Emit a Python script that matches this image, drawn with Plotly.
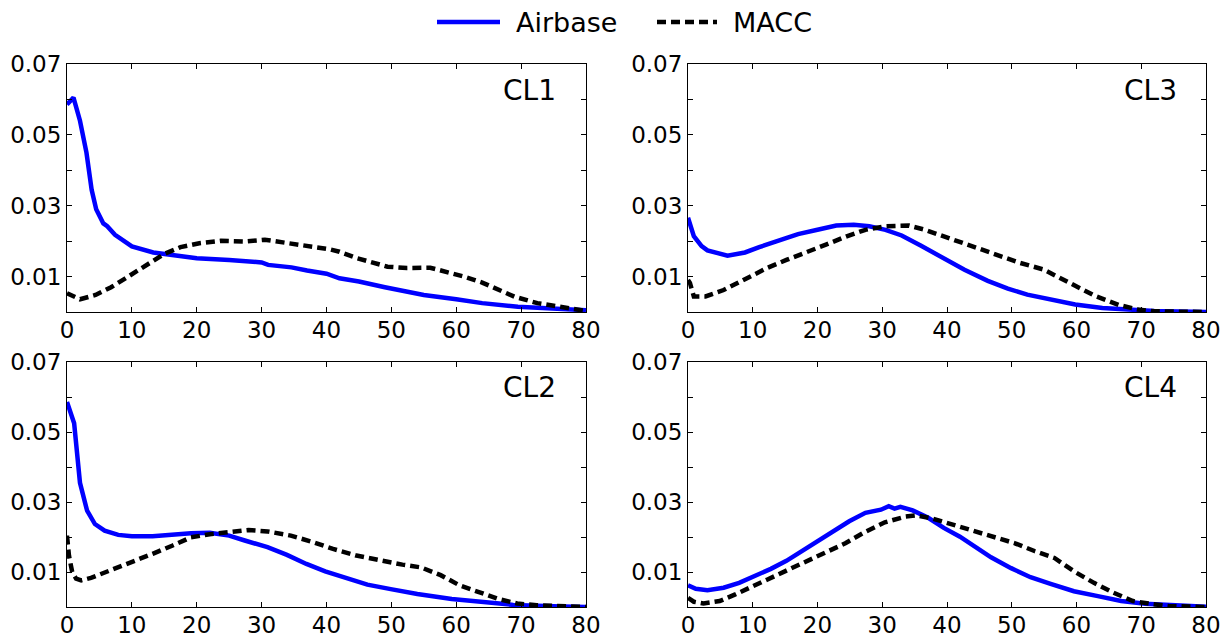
import plotly.graph_objects as go

# Airbase vs MACC distributions for four clusters (x: value bins, y: density)
cl1_air_x = [0, 1, 2, 3, 3.8, 4.5, 5.6, 6.2, 7.4, 10, 13.3, 16, 20, 25, 30, 31, 34.6, 37, 40, 42, 45, 49, 55, 60, 64, 69.5, 74.8, 80]
cl1_air_y = [0.0586, 0.0605, 0.054, 0.045, 0.0345, 0.029, 0.025, 0.0242, 0.0218, 0.0185, 0.0168, 0.0162, 0.0152, 0.0147, 0.014, 0.0133, 0.0126, 0.0117, 0.0108, 0.0095, 0.0086, 0.007, 0.0048, 0.0036, 0.0025, 0.0015, 0.001, 0.0005]
cl1_macc_x = [0, 2, 4.4, 6.8, 9, 12, 15, 17.5, 20.4, 23.7, 27.5, 30.5, 33.4, 37.5, 40.5, 42, 44.7, 49.4, 52.4, 56, 58.6, 61.2, 64, 69, 72.5, 75.5, 78.4, 80]
cl1_macc_y = [0.0053, 0.0036, 0.0048, 0.007, 0.0095, 0.0128, 0.0164, 0.0183, 0.0194, 0.0201, 0.0199, 0.0204, 0.0196, 0.0187, 0.0177, 0.017, 0.0152, 0.0128, 0.0124, 0.0125, 0.0114, 0.01, 0.0083, 0.0043, 0.0025, 0.0015, 0.0006, 0.0003]

cl2_air_x = [0, 1.1, 2, 3.1, 4.3, 5.8, 7.9, 10, 13.2, 16.2, 19.1, 22, 25, 27.4, 30.9, 33.9, 36.9, 39.8, 42.8, 46.3, 49.9, 54, 59.3, 64.1, 68.8, 75, 80]
cl2_air_y = [0.0586, 0.0525, 0.0355, 0.0275, 0.0237, 0.0218, 0.0206, 0.0202, 0.0202, 0.0207, 0.0211, 0.0212, 0.0204, 0.019, 0.0171, 0.0149, 0.0123, 0.0102, 0.0084, 0.0064, 0.0051, 0.0037, 0.0023, 0.0013, 0.0006, 0.0002, 0.0]
cl2_macc_x = [0, 0.3, 0.8, 1.4, 2.2, 3.7, 6.7, 9.6, 13.2, 16.2, 19.1, 22, 25, 28, 30.9, 34.5, 38, 41, 44.6, 48.1, 51.7, 54.6, 57.6, 60.5, 63.5, 66.5, 69.4, 72.4, 80]
cl2_macc_y = [0.0204, 0.0147, 0.01, 0.0081, 0.0076, 0.0083, 0.0105, 0.0125, 0.0152, 0.0175, 0.0199, 0.0208, 0.0215, 0.022, 0.0216, 0.0204, 0.0185, 0.0166, 0.0147, 0.0133, 0.0121, 0.0113, 0.0091, 0.0062, 0.0043, 0.0023, 0.001, 0.0005, 0.0]

cl3_air_x = [0, 0.9, 2.1, 3, 6.1, 8.8, 11, 14, 17, 20, 22.9, 25.6, 28, 30.5, 33, 36, 39.6, 42.7, 46.3, 49.4, 52.4, 56, 59.8, 64, 68.3, 72, 80]
cl3_air_y = [0.0266, 0.0214, 0.0186, 0.0174, 0.0159, 0.0168, 0.0183, 0.0202, 0.022, 0.0232, 0.0244, 0.0246, 0.0242, 0.0232, 0.0216, 0.0187, 0.0151, 0.0119, 0.0088, 0.0066, 0.0049, 0.0034, 0.0021, 0.0011, 0.0006, 0.0003, 0.0]
cl3_macc_x = [0, 0.3, 0.9, 2.7, 5.5, 8.5, 12.2, 15.2, 18.3, 21.3, 24.4, 27.4, 30.5, 34.1, 36.6, 40.2, 43.9, 47.6, 51.2, 54.9, 58.5, 62.8, 66.5, 69.5, 72, 80]
cl3_macc_y = [0.009, 0.0082, 0.0044, 0.0044, 0.0062, 0.009, 0.0124, 0.0147, 0.0168, 0.019, 0.0213, 0.0232, 0.0242, 0.0244, 0.0232, 0.0209, 0.0185, 0.0162, 0.0139, 0.012, 0.0085, 0.0046, 0.002, 0.0007, 0.0002, 0.0]

cl4_air_x = [0, 1.2, 3, 5.5, 7.9, 10.3, 12.8, 15.2, 17.6, 20.1, 22.5, 24.9, 27.4, 29.8, 31, 31.9, 32.8, 34.7, 37.1, 39.5, 42, 44.4, 46.8, 49.9, 52.9, 56, 59.6, 63.3, 66.9, 70.6, 75, 80]
cl4_air_y = [0.0062, 0.0052, 0.0048, 0.0055, 0.0069, 0.0088, 0.0109, 0.0132, 0.016, 0.0189, 0.022, 0.0245, 0.0269, 0.0278, 0.0288, 0.0281, 0.0286, 0.0276, 0.0255, 0.0226, 0.0201, 0.0173, 0.0142, 0.0111, 0.0085, 0.0066, 0.0045, 0.0031, 0.0017, 0.0009, 0.0004, 0.0001]
cl4_macc_x = [0, 0.9, 2.4, 4.9, 7.3, 9.7, 12.2, 15.2, 18.2, 21.3, 24.3, 27.4, 30.4, 33.5, 35.3, 37.7, 40.8, 43.8, 46.8, 50.5, 53.5, 56.6, 59.6, 62.7, 65.7, 68.7, 71.8, 74.2, 80]
cl4_macc_y = [0.0026, 0.0015, 0.001, 0.0017, 0.0036, 0.0055, 0.0078, 0.0104, 0.013, 0.0154, 0.0182, 0.0215, 0.0242, 0.0258, 0.0262, 0.0253, 0.0236, 0.0217, 0.0201, 0.0182, 0.016, 0.014, 0.0102, 0.0069, 0.0041, 0.0017, 0.0008, 0.0003, 0.0]

panel_names = ["CL1", "CL2", "CL3", "CL4"]
series_names = ["Airbase", "MACC"]
x_ticks = [0, 10, 20, 30, 40, 50, 60, 70, 80]
y_ticks = [0.01, 0.02, 0.03, 0.04, 0.05, 0.06, 0.07]
y_tick_text = ["0.01", "", "0.03", "", "0.05", "", "0.07"]

series = {
    "CL1": (cl1_air_x, cl1_air_y, cl1_macc_x, cl1_macc_y),
    "CL2": (cl2_air_x, cl2_air_y, cl2_macc_x, cl2_macc_y),
    "CL3": (cl3_air_x, cl3_air_y, cl3_macc_x, cl3_macc_y),
    "CL4": (cl4_air_x, cl4_air_y, cl4_macc_x, cl4_macc_y),
}

W, H = 1227, 641
left_dom = [67 / W, 586 / W]
right_dom = [688 / W, 1206 / W]
top_dom = [1 - 312 / H, 1 - 64 / H]
bot_dom = [1 - 607 / H, 1 - 362 / H]

# panel -> (axis suffix, x domain, y domain)
layout_map = {
    "CL1": ("", left_dom, top_dom),
    "CL3": ("2", right_dom, top_dom),
    "CL2": ("3", left_dom, bot_dom),
    "CL4": ("4", right_dom, bot_dom),
}

FONT = "DejaVu Sans"
AIR_LINE = dict(color="#0000ff", width=4.5)
MACC_LINE = dict(color="black", width=4.5, dash="9px,5px")

fig = go.Figure()
layout = dict(
    width=W, height=H,
    margin=dict(l=0, r=0, t=0, b=0),
    paper_bgcolor="white", plot_bgcolor="white",
    font=dict(family=FONT, size=23, color="black"),
    showlegend=False,
    annotations=[],
    shapes=[],
)

for name in panel_names:
    suf, xd, yd = layout_map[name]
    ax_x, ax_y = "x" + suf, "y" + suf
    ax, ay, mx, my = series[name]
    fig.add_trace(go.Scatter(x=ax, y=ay, mode="lines", name=series_names[0],
                             line=AIR_LINE, xaxis=ax_x, yaxis=ax_y))
    fig.add_trace(go.Scatter(x=mx, y=my, mode="lines", name=series_names[1],
                             line=MACC_LINE, xaxis=ax_x, yaxis=ax_y))
    common = dict(showline=True, linecolor="black", linewidth=1, mirror="allticks",
                  ticks="inside", ticklen=5, tickcolor="black", tickwidth=1,
                  showgrid=False, zeroline=False, automargin=False,
                  tickfont=dict(size=23, family=FONT))
    layout["xaxis" + suf] = dict(domain=xd, range=[0, 80], tickvals=x_ticks,
                                 anchor=ax_y, ticklabelstandoff=-3, **common)
    layout["yaxis" + suf] = dict(domain=yd, range=[0, 0.07], tickvals=y_ticks,
                                 ticktext=y_tick_text, anchor=ax_x, **common)
    layout["annotations"].append(dict(
        text=name, xref=ax_x + " domain", yref=ax_y + " domain",
        x=0.947, y=0.895, xanchor="right", yanchor="middle", showarrow=False,
        font=dict(size=28, family=FONT, color="black")))

# Legend row across the top: line sample followed by its label
legend_y = 1 - 22 / H
legend_items = [(series_names[0], AIR_LINE, 437, 500, 514),
                (series_names[1], MACC_LINE, 657, 717, 731)]
for label, style, x0, x1, xt in legend_items:
    layout["shapes"].append(dict(type="line", xref="paper", yref="paper",
                                 x0=x0 / W, x1=x1 / W, y0=legend_y, y1=legend_y,
                                 line=style))
    layout["annotations"].append(dict(
        text=label, xref="paper", yref="paper", x=xt / W, y=legend_y,
        xanchor="left", yanchor="middle", showarrow=False,
        font=dict(size=27, family=FONT, color="black")))

fig.update_layout(**layout)
fig.write_html("out.html")
